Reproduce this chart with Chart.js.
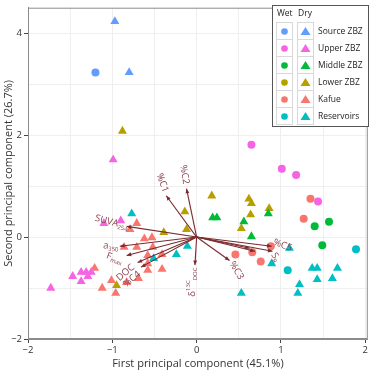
<!DOCTYPE html>
<html>
<head>
<meta charset="utf-8">
<script src="https://cdn.jsdelivr.net/npm/chart.js@4.4.0/dist/chart.umd.min.js"></script>
<style>
  html, body { margin: 0; padding: 0; background: #fff; }
</style>
</head>
<body>
<canvas id="pca" width="373" height="373"></canvas>
<script>
// Sites (legend order) and their hue colours
const sites = ['Source ZBZ', 'Upper ZBZ', 'Middle ZBZ', 'Lower ZBZ', 'Kafue', 'Reservoirs'];
const siteColors = ['#619CFF', '#F564E3', '#00BA38', '#B79F00', '#F8766D', '#00BFC4'];

// PC1 / PC2 scores
const sourceWet = [[-1.20, 3.23]];
const sourceDry = [[-0.97, 4.23], [-0.80, 3.23]];
const upperWet = [[0.65, 1.81], [1.01, 1.34], [1.18, 1.22], [1.44, 0.70]];
const upperDry = [[-0.99, 1.52], [-0.90, 0.32], [-1.10, 0.27], [-1.73, -1.00], [-1.47, -0.77],
  [-1.37, -0.69], [-1.31, -0.69], [-1.25, -0.69], [-1.37, -0.87], [-1.29, -0.77]];
const middleWet = [[1.40, 0.21], [1.57, 0.30], [1.49, -0.16]];
const middleDry = [[0.19, 0.38], [0.24, 0.38], [0.56, 0.30], [0.65, 0.01], [0.85, 0.46]];
const lowerWet = [];
const lowerDry = [[-0.88, 2.08], [0.18, 0.81], [-0.14, 0.50], [-0.12, 0.15], [0.62, 0.75], [0.65, 0.66],
  [0.64, 0.44], [0.53, 0.17], [0.86, 0.56], [-0.39, 0.09], [-0.95, -0.95]];
const kafueWet = [[1.35, 0.75], [1.27, 0.36], [0.46, -0.34], [0.66, -0.30], [0.76, -0.48], [0.88, -0.18]];
const kafueDry = [[-0.79, 0.15], [-0.71, 0.27], [-0.62, -0.03], [-0.53, -0.01], [-0.71, -0.20], [-0.52, -0.20],
  [-0.86, -0.20], [-0.41, -0.34], [-0.58, -0.36], [-0.58, -0.52], [-0.58, -0.65], [-0.41, -0.63],
  [-0.69, -0.81], [-0.83, -0.89], [-1.01, -0.85], [-1.12, -1.00], [-0.96, -1.10], [-1.21, -0.61]];
const reservoirWet = [[1.08, -0.65], [1.89, -0.24]];
const reservoirDry = [[-0.77, 0.46], [-0.11, -0.18], [-0.24, -0.34], [-0.51, -0.42], [0.53, -1.10],
  [0.89, -0.52], [1.10, -0.22], [1.37, -0.61], [1.43, -0.61], [1.43, -0.83], [1.61, -0.81],
  [1.67, -0.61], [1.22, -0.93], [1.20, -1.10]];

const wetScores = [sourceWet, upperWet, middleWet, lowerWet, kafueWet, reservoirWet];
const dryScores = [sourceDry, upperDry, middleDry, lowerDry, kafueDry, reservoirDry];

// variable loadings (arrow tips); _ = subscript, ^ = superscript
const loadNames = ['%C1', '%C2', 'SUVA_254', 'a_350', 'F_max', 'DOC', '%C4', '\u03b4^13C_DOC', '%C3', '', '', '%C5', 'S_R'];
const loadX = [-0.36, -0.12, -0.83, -0.91, -0.83, -0.70, -0.66, -0.02, 0.39, 0.63, 0.69, 0.89, 0.90];
const loadY = [0.81, 0.95, 0.21, -0.18, -0.36, -0.50, -0.59, -0.55, -0.46, -0.22, -0.28, -0.18, -0.28];

// axis ticks
const xGrid = [-2, -1.5, -1, -0.5, 0, 0.5, 1, 1.5, 2];
const xLabels = [-2, -1, 0, 1, 2];
const yGrid = [-2, -1, 0, 1, 2, 3, 4];
const yLabels = [-2, 0, 2, 4];

// label placement: [dx px, dy px, rotation deg]
const labelNudge = [[-4, -13, 70], [-2, -14, 80], [-15, -4, 15], [-9, 0, 5], [-12, 3, 20], [-12, 10, -40],
  [-9, 12, -40], [-3, 17, -90], [7, 10, 60], [0, 0, 0], [0, 0, 0], [11, -1, 20], [3, 6, 60]];

const FONT = '"Open Sans", "Noto Sans", sans-serif';
const arrowColor = '#7a2a2e';
const labelColor = '#8a4250';
const fmt = v => (v < 0 ? '\u2212' + Math.abs(v) : String(v));

function parseLabel(s) {
  const parts = [];
  const re = /([_^]?)([^_^]+)/g;
  let m;
  while ((m = re.exec(s))) parts.push({ t: m[2], k: m[1] });
  return parts;
}

const datasets = [];
sites.forEach((name, i) => {
  datasets.push({
    label: name + ' wet', data: wetScores[i].map(p => ({ x: p[0], y: p[1] })),
    pointStyle: 'circle', pointRadius: 4, backgroundColor: siteColors[i], borderWidth: 0
  });
  datasets.push({
    label: name + ' dry', data: dryScores[i].map(p => ({ x: p[0], y: p[1] })),
    pointStyle: 'triangle', pointRadius: 5.2, backgroundColor: siteColors[i], borderWidth: 0
  });
});

const frame = {
  id: 'frame',
  beforeDatasetsDraw(chart) {
    const { ctx, chartArea: a } = chart;
    ctx.save();
    ctx.strokeStyle = '#8c8c8c';
    ctx.lineWidth = 1;
    ctx.strokeRect(a.left + 0.5, a.top + 0.5, a.right - a.left - 1, a.bottom - a.top - 1);
    ctx.restore();
  }
};

const biplot = {
  id: 'biplot',
  afterDatasetsDraw(chart) {
    const { ctx, scales: { x, y } } = chart;
    const x0 = x.getPixelForValue(0), y0 = y.getPixelForValue(0);
    ctx.save();
    ctx.strokeStyle = arrowColor;
    ctx.fillStyle = arrowColor;
    ctx.lineWidth = 1.1;
    loadX.forEach((lx, i) => {
      const px = x.getPixelForValue(lx), py = y.getPixelForValue(loadY[i]);
      const a = Math.atan2(py - y0, px - x0);
      ctx.beginPath(); ctx.moveTo(x0, y0); ctx.lineTo(px, py); ctx.stroke();
      ctx.beginPath();
      ctx.moveTo(px, py);
      ctx.lineTo(px - 5 * Math.cos(a - 0.4), py - 5 * Math.sin(a - 0.4));
      ctx.lineTo(px - 5 * Math.cos(a + 0.4), py - 5 * Math.sin(a + 0.4));
      ctx.closePath(); ctx.fill();
    });
    // labels
    ctx.fillStyle = labelColor;
    ctx.textBaseline = 'middle';
    ctx.textAlign = 'left';
    loadNames.forEach((name, i) => {
      if (!name) return;
      const parts = parseLabel(name);
      const px = x.getPixelForValue(loadX[i]) + labelNudge[i][0];
      const py = y.getPixelForValue(loadY[i]) + labelNudge[i][1];
      let w = 0;
      parts.forEach(p => {
        ctx.font = (p.k ? 6 : 9.5) + 'px ' + FONT;
        p.w = ctx.measureText(p.t).width;
        w += p.w;
      });
      ctx.save();
      ctx.translate(px, py);
      ctx.rotate(labelNudge[i][2] * Math.PI / 180);
      let cx = -w / 2;
      parts.forEach(p => {
        ctx.font = (p.k ? 6 : 9.5) + 'px ' + FONT;
        const dy = p.k === '_' ? 3 : p.k === '^' ? -3.5 : 0;
        ctx.fillText(p.t, cx, dy);
        cx += p.w;
      });
      ctx.restore();
    });
    ctx.restore();
  }
};

const keyLegend = {
  id: 'keyLegend',
  afterDraw(chart) {
    const { ctx } = chart;
    const L = 272, T = 5, W = 96, H = 121, rowTop = 22, rowH = 17;
    ctx.save();
    ctx.fillStyle = '#fff';
    ctx.fillRect(L, T, W, H);
    ctx.strokeStyle = '#555';
    ctx.lineWidth = 1;
    ctx.strokeRect(L + 0.5, T + 0.5, W, H);
    ctx.fillStyle = '#222';
    ctx.font = '8.5px ' + FONT;
    ctx.textBaseline = 'middle';
    ctx.textAlign = 'left';
    ctx.fillText('Wet', L + 5, T + 9);
    ctx.fillText('Dry', L + 26, T + 9);
    sites.forEach((name, i) => {
      const top = rowTop + i * rowH;
      ctx.strokeStyle = '#d8d8d8';
      ctx.strokeRect(L + 4.5, top + 0.5, 16, rowH);
      ctx.strokeRect(L + 25.5, top + 0.5, 16, rowH);
      const cy = top + rowH / 2 + 1;
      ctx.fillStyle = siteColors[i];
      ctx.beginPath(); ctx.arc(L + 12.5, cy, 3.3, 0, Math.PI * 2); ctx.fill();
      ctx.beginPath();
      ctx.moveTo(L + 33.5, cy - 4.5);
      ctx.lineTo(L + 38.5, cy + 3.5);
      ctx.lineTo(L + 28.5, cy + 3.5);
      ctx.closePath(); ctx.fill();
      ctx.fillStyle = '#222';
      ctx.fillText(name, L + 46, cy);
    });
    ctx.restore();
  }
};

new Chart(document.getElementById('pca').getContext('2d'), {
  type: 'scatter',
  data: { datasets },
  options: {
    responsive: false,
    animation: false,
    devicePixelRatio: 1,
    layout: { padding: { top: 6, right: 4, left: 0, bottom: 0 } },
    plugins: { legend: { display: false }, tooltip: { enabled: false } },
    scales: {
      x: {
        type: 'linear', min: -2, max: 2.03,
        afterBuildTicks: s => { s.ticks = xGrid.map(v => ({ value: v })); },
        afterFit: s => { s.height = 34; },
        ticks: {
          autoSkip: false, maxRotation: 0, padding: 2, color: '#333',
          font: { family: FONT, size: 9.5 },
          callback: v => (xLabels.includes(v) ? fmt(v) : '')
        },
        grid: {
          color: '#efefef', tickLength: 4,
          tickColor: c => (c.tick && xLabels.includes(c.tick.value) ? '#444' : 'rgba(0,0,0,0)')
        },
        border: { color: '#8c8c8c' },
        title: {
          display: true, text: 'First principal component (45.1%)', color: '#333',
          font: { family: FONT, size: 11 }, padding: { top: 0, bottom: 3 }
        }
      },
      y: {
        type: 'linear', min: -2, max: 4.5,
        afterBuildTicks: s => { s.ticks = yGrid.map(v => ({ value: v })); },
        afterFit: s => { s.width = 28; },
        ticks: {
          autoSkip: false, padding: 2, color: '#333',
          font: { family: FONT, size: 9.5 },
          callback: v => (yLabels.includes(v) ? fmt(v) : '')
        },
        grid: {
          color: '#efefef', tickLength: 4,
          tickColor: c => (c.tick && yLabels.includes(c.tick.value) ? '#444' : 'rgba(0,0,0,0)')
        },
        border: { color: '#8c8c8c' },
        title: {
          display: true, text: 'Second principal component (26.7%)', color: '#333',
          font: { family: FONT, size: 11 }, padding: { top: 2, bottom: 0 }
        }
      }
    }
  },
  plugins: [frame, biplot, keyLegend]
});
</script>
</body>
</html>
